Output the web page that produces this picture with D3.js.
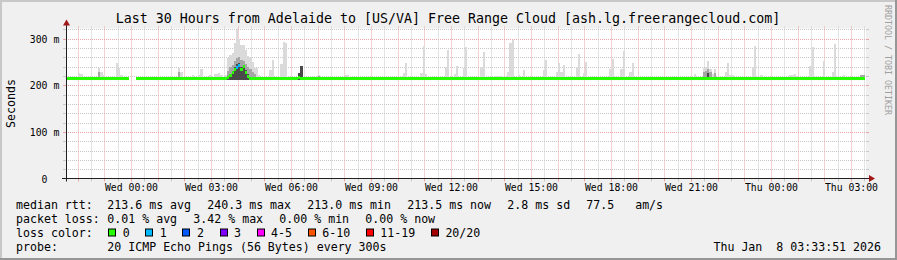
<!DOCTYPE html>
<html>
<head>
<meta charset="utf-8">
<script src="https://cdn.jsdelivr.net/npm/d3@7"></script>
<style>
  html, body { margin: 0; padding: 0; background: #f0f0f0; }
  svg { display: block; }
  text { font-family: 'DejaVu Sans Mono', monospace; fill: #000; white-space: pre; }
</style>
</head>
<body>
<svg id="chart"></svg>
<script>
// ---- data ----
const titleText = 'Last 30 Hours from Adelaide to [US/VA] Free Range Cloud [ash.lg.freerangecloud.com]';
const startTime = new Date(2026, 0, 6, 21, 33, 51);
const endTime = new Date(2026, 0, 8, 3, 33, 51);
const stepSeconds = 300;
const yTickValues = [0, 100, 200, 300];

// median rtt (ms) for every 5 minute step, null = no data
const medianRtt = [
  213.2,213.1,213.0,213.4,213.2,213.6,213.3,213.1,213.2,213.0,213.4,213.3,213.2,213.1,213.5,213.8,213.4,213.2,213.1,213.3,
  213.2,213.4,213.1,213.6,213.5,213.2,213.0,213.1,213.3,null,null,null,213.4,213.2,213.1,213.0,213.2,213.3,213.1,213.2,
  213.0,213.4,213.3,213.2,213.1,213.2,213.0,213.1,213.2,213.3,213.4,213.7,213.3,213.2,213.1,213.0,213.2,213.5,213.2,213.1,
  213.3,213.6,213.2,213.1,213.0,213.4,213.2,213.5,213.6,213.4,213.3,213.2,213.6,215.0,220.1,226.8,232.2,237.4,240.3,232.0,
  239.8,225.1,217.2,213.6,213.4,213.3,213.2,213.3,213.1,213.0,213.2,213.1,213.4,213.6,213.2,213.1,213.2,213.5,213.9,213.6,
  213.2,213.4,213.1,213.0,213.3,216.2,213.8,213.2,213.1,213.0,213.2,213.1,213.3,213.5,213.6,213.2,213.1,213.0,213.2,213.1,
  213.0,213.1,213.2,213.4,213.1,213.0,213.3,213.4,213.2,213.1,213.0,213.2,213.1,213.0,213.1,213.2,213.0,213.1,213.2,213.0,
  213.1,213.0,213.2,213.1,213.0,213.2,213.1,213.3,213.2,213.1,213.0,213.1,213.3,213.6,213.2,213.1,213.0,213.2,213.1,213.2,
  213.4,213.7,213.3,213.1,213.0,213.2,213.1,213.0,213.2,213.1,213.3,213.5,213.8,213.2,213.1,213.4,213.6,213.2,213.1,213.5,
  213.9,213.3,213.2,213.1,213.0,213.1,213.2,213.5,213.8,213.2,213.1,213.0,213.1,213.3,213.4,213.3,213.3,213.1,213.0,213.4,
  213.9,214.0,213.2,213.1,213.3,213.1,213.5,213.2,213.1,213.0,213.2,213.1,213.0,213.1,213.2,213.5,213.7,213.2,213.1,213.0,
  213.1,213.4,213.6,213.3,213.5,213.1,213.0,213.2,213.3,213.1,213.5,213.7,213.1,213.4,213.6,213.1,213.2,213.3,213.1,213.0,
  213.1,213.2,213.0,213.1,213.2,213.4,213.7,213.1,213.0,213.2,213.4,213.8,213.1,213.0,213.3,213.6,213.2,213.1,213.0,213.2,
  213.1,213.0,213.2,213.3,213.3,213.1,213.0,213.2,213.1,213.0,213.1,213.2,213.0,213.1,213.2,213.1,213.0,213.2,213.1,213.0,
  213.2,213.1,213.0,213.3,213.1,213.0,213.2,213.5,213.7,214.0,213.6,213.3,213.5,213.2,213.1,213.0,213.2,213.4,213.6,213.3,
  213.3,213.1,213.0,213.1,213.2,213.2,213.1,213.0,213.2,213.4,213.8,213.1,213.0,213.3,213.1,213.2,213.0,213.1,213.2,213.1,
  213.0,213.2,213.1,213.0,213.1,213.2,213.3,213.3,213.4,213.2,213.1,213.0,213.2,213.1,213.0,213.4,213.8,213.2,213.1,213.2,
  213.2,213.6,213.1,213.0,213.2,213.4,213.9,213.1,213.0,213.2,213.3,213.1,213.0,213.2,213.1,213.0,213.2,213.1,213.4,213.5
];

// steps with lost pings: [step, lost of 20]
const lossSteps = [[77, 1], [78, 1]];

// smoke per step: [step, max ping, upper mid ping, upper dark ping] (ms), 0 = none
const smoke = [
  [6, 227], [7, 224], [15, 237, 229], [16, 229], [17, 222], [23, 248], [24, 236], [25, 222],
  [41, 216], [42, 216], [51, 236, 229], [52, 228], [57, 222], [60, 222], [61, 234], [65, 222],
  [67, 225], [68, 224], [69, 226], [70, 222], [72, 222],
  [73, 258, 230, 220], [74, 265, 238, 224], [75, 268, 244, 230], [76, 290, 252, 238],
  [77, 322, 258, 246], [78, 300, 260, 248], [79, 286, 254, 240], [80, 286, 252, 244],
  [81, 275, 246, 232], [82, 262, 240, 224], [83, 261, 234], [84, 250, 228], [85, 236, 224],
  [86, 236], [87, 222], [92, 232], [93, 255], [97, 245], [98, 293], [99, 290], [101, 217],
  [105, 226, 226, 226], [106, 241, 241, 241], [113, 220, 218], [114, 222, 220], [123, 216],
  [126, 222], [127, 222], [152, 226], [153, 248], [160, 226], [161, 284], [162, 225],
  [171, 240], [172, 275], [175, 223], [176, 241], [179, 237], [180, 282], [181, 216], [182, 216],
  [187, 240], [188, 272], [193, 219], [194, 219], [195, 219], [196, 219], [199, 229], [200, 291],
  [201, 297], [204, 222], [206, 233], [207, 216], [215, 233], [216, 254], [221, 229], [222, 248],
  [223, 229], [224, 244], [228, 216], [230, 240], [231, 267], [233, 226], [234, 250], [236, 218],
  [237, 218], [245, 234], [246, 257], [250, 235], [251, 274], [254, 229], [255, 247], [263, 218],
  [264, 218], [280, 216], [283, 223], [286, 216], [287, 237, 229], [288, 240, 230],
  [289, 252, 235, 226], [290, 235, 228], [291, 225], [292, 235, 226], [297, 229], [298, 248],
  [299, 222], [300, 222], [304, 216], [305, 216], [309, 240], [310, 284], [313, 222], [315, 216],
  [326, 222], [327, 222], [328, 224], [329, 219], [335, 241], [336, 282], [339, 216], [340, 216],
  [341, 252], [345, 229], [346, 288], [350, 222], [358, 222, 222], [359, 222, 222]
];

const lossLabels = ['0', '1', '2', '3', '4-5', '6-10', '11-19', '20/20'];
const lossColors = ['#26ff00', '#00b8ff', '#0059ff', '#7e00ff', '#ff00ff', '#ff5500', '#ff0000', '#a10000'];

const rttStats = ['213.6 ms avg', '240.3 ms max', '213.0 ms min', '213.5 ms now', '2.8 ms sd', '77.5   am/s'];
const lossStats = ['0.01 % avg', '3.42 % max', '0.00 % min', '0.00 % now'];
const probeText = '20 ICMP Echo Pings (56 Bytes) every 300s';
const stampText = 'Thu Jan  8 03:33:51 2026';
const yLabel = 'Seconds';
const watermark = 'RRDTOOL / TOBI OETIKER';


class SmokeChart {

  constructor(_config) {
    this.config = {
      parentElement: _config.parentElement,
      containerWidth: 897,
      containerHeight: 260,
      plot: {left: 66, right: 866, top: 28.5, bottom: 178.5},
      yMax: 321.43,
      smokeBase: 211.5,
      charWidth: 7.0,
      legendGap: 16
    };
    this.initVis();
  }

  initVis() {
    let vis = this;
    const c = vis.config;
    const W = c.containerWidth, H = c.containerHeight;

    vis.xScale = d3.scaleTime()
        .domain([startTime, endTime])
        .range([c.plot.left, c.plot.right]);

    vis.yScale = d3.scaleLinear()
        .domain([0, c.yMax])
        .range([c.plot.bottom, c.plot.top]);

    vis.svg = d3.select(c.parentElement)
        .attr('width', W)
        .attr('height', H);

    // background with rrdtool style 3d border
    vis.svg.append('rect').attr('width', W).attr('height', H).attr('fill', '#f0f0f0');
    vis.svg.append('path').attr('d', `M0,0H${W}V2H2V${H}H0Z`).attr('fill', '#c8c8c8');
    vis.svg.append('path').attr('d', `M${W},${H}H0V${H - 2}H${W - 2}V0H${W}Z`).attr('fill', '#969696');

    // canvas
    vis.svg.append('rect')
        .attr('x', c.plot.left)
        .attr('y', c.plot.top)
        .attr('width', c.plot.right - c.plot.left)
        .attr('height', c.plot.bottom - c.plot.top)
        .attr('fill', '#ffffff');

    vis.svg.append('clipPath').attr('id', 'plot-clip')
      .append('rect')
        .attr('x', c.plot.left)
        .attr('y', c.plot.top)
        .attr('width', c.plot.right - c.plot.left)
        .attr('height', c.plot.bottom - c.plot.top);

    vis.gridG = vis.svg.append('g');
    vis.chart = vis.svg.append('g').attr('clip-path', 'url(#plot-clip)');
    vis.axisG = vis.svg.append('g');
    vis.legendG = vis.svg.append('g');

    vis.renderGrid();
    vis.renderVis();
    vis.renderAxes();
    vis.renderLegend();
  }

  renderGrid() {
    let vis = this;
    const c = vis.config;
    const minorCol = '#c8c8c8', majorCol = '#eaa4a4';

    // horizontal grid every 20 m, major every 100 m
    const hLines = d3.range(20, c.yMax, 20);
    hLines.forEach(v => {
      const y = Math.round(vis.yScale(v)) + 0.5;
      const col = v % 100 === 0 ? majorCol : minorCol;
      vis.gridG.append('line')
          .attr('x1', c.plot.left).attr('x2', c.plot.right + 2)
          .attr('y1', y).attr('y2', y)
          .attr('stroke', col).attr('stroke-dasharray', '1,1');
      vis.gridG.append('line')
          .attr('x1', c.plot.left - 3).attr('x2', c.plot.left)
          .attr('y1', y).attr('y2', y).attr('stroke', col);
      vis.gridG.append('line')
          .attr('x1', c.plot.right).attr('x2', c.plot.right + 3)
          .attr('y1', y).attr('y2', y).attr('stroke', col);
    });

    // vertical grid every 30 min, major every hour
    const vLines = d3.timeMinute.every(30).range(startTime, endTime);
    vLines.forEach(t => {
      const x = Math.round(vis.xScale(t)) + 0.5;
      const col = t.getMinutes() === 0 ? majorCol : minorCol;
      vis.gridG.append('line')
          .attr('x1', x).attr('x2', x)
          .attr('y1', c.plot.top - 2).attr('y2', c.plot.bottom)
          .attr('stroke', col).attr('stroke-dasharray', '1,1');
      vis.gridG.append('line')
          .attr('x1', x).attr('x2', x)
          .attr('y1', c.plot.bottom).attr('y2', c.plot.bottom + 3)
          .attr('stroke', col);
    });
  }

  renderVis() {
    let vis = this;
    const c = vis.config;
    const half = stepSeconds * 500;
    const stepTime = i => new Date(startTime.getTime() + i * stepSeconds * 1000);
    const x0 = i => Math.round(vis.xScale(new Date(stepTime(i).getTime() - half)));
    const x1 = i => Math.round(vis.xScale(new Date(stepTime(i).getTime() + half)));

    // smoke: light max band, then mid and dark inner bands
    const shades = [['#dadada', 1], ['#a6a6a6', 2], ['#4a4a4a', 3]];
    shades.forEach(([col, k]) => {
      vis.chart.append('g')
          .attr('shape-rendering', 'crispEdges')
        .selectAll('rect')
          .data(smoke.filter(d => d[k]))
        .join('rect')
          .attr('x', d => x0(d[0]))
          .attr('width', d => x1(d[0]) - x0(d[0]))
          .attr('y', d => Math.round(vis.yScale(d[k])))
          .attr('height', d => Math.round(vis.yScale(c.smokeBase)) - Math.round(vis.yScale(d[k])))
          .attr('fill', col);
    });

    // median, coloured by the number of lost pings
    const lossMap = new Map(lossSteps);
    const lossIndex = n => n === 0 ? 0 : n <= 3 ? n : n <= 5 ? 4 : n <= 10 ? 5 : n <= 19 ? 6 : 7;
    const medData = medianRtt.map((v, i) => ({i, v, loss: lossMap.get(i) || 0}))
        .filter(d => d.v !== null);

    vis.chart.append('g')
        .attr('shape-rendering', 'crispEdges')
      .selectAll('rect')
        .data(medData)
      .join('rect')
        .attr('x', d => x0(d.i))
        .attr('width', d => x1(d.i) - x0(d.i))
        .attr('y', d => Math.floor(vis.yScale(d.v) - 1.5))
        .attr('height', 3)
        .attr('fill', d => lossColors[lossIndex(d.loss)]);
  }

  renderAxes() {
    let vis = this;
    const c = vis.config;
    const axisCol = '#202020', arrowCol = '#a01818';

    // x labels
    const xAxis = d3.axisBottom(vis.xScale)
        .tickValues(d3.timeHour.every(3).range(startTime, endTime))
        .tickFormat(d3.timeFormat('%a %H:%M'))
        .tickSize(0);
    const xg = vis.axisG.append('g')
        .attr('transform', `translate(0,${c.plot.bottom})`)
        .call(xAxis);
    xg.select('.domain').remove();
    xg.attr('font-family', null).attr('font-size', null);
    xg.selectAll('text')
        .attr('y', 12.7)
        .attr('dy', null)
        .style('font-size', '9.8px');

    // y labels
    const yAxis = d3.axisLeft(vis.yScale)
        .tickValues(yTickValues)
        .tickFormat(d => d ? `${d} m` : '0  ')
        .tickSize(0)
        .tickPadding(6.7);
    const yg = vis.axisG.append('g')
        .attr('transform', `translate(${c.plot.left},0)`)
        .call(yAxis);
    yg.select('.domain').remove();
    yg.attr('font-family', null).attr('font-size', null);
    yg.selectAll('text')
        .attr('xml:space', 'preserve')
        .attr('dy', '0.36em')
        .style('font-size', '9.8px');

    // axis lines and arrows
    const ax = c.plot.left + 0.5, ay = c.plot.bottom;
    vis.axisG.append('line')
        .attr('x1', c.plot.left - 4).attr('x2', c.plot.right + 4)
        .attr('y1', ay).attr('y2', ay)
        .attr('stroke', axisCol);
    vis.axisG.append('line')
        .attr('x1', ax).attr('x2', ax)
        .attr('y1', ay + 3).attr('y2', c.plot.top - 4)
        .attr('stroke', axisCol);
    vis.axisG.append('path')
        .attr('d', `M${c.plot.right + 3},${ay - 3.5}L${c.plot.right + 9},${ay}L${c.plot.right + 3},${ay + 3.5}Z`)
        .attr('fill', arrowCol);
    vis.axisG.append('path')
        .attr('d', `M${ax - 3.5},${c.plot.top - 3}L${ax},${c.plot.top - 9}L${ax + 3.5},${c.plot.top - 3}Z`)
        .attr('fill', arrowCol);

    // axis title
    vis.axisG.append('text')
        .attr('transform', `translate(15,${(c.plot.top + c.plot.bottom) / 2}) rotate(-90)`)
        .attr('text-anchor', 'middle')
        .style('font-size', '11.6px')
        .text(yLabel);

    // title
    vis.axisG.append('text')
        .attr('x', 448)
        .attr('y', 23)
        .attr('text-anchor', 'middle')
        .style('font-size', '13.3px')
        .text(titleText);

    // watermark
    vis.axisG.append('text')
        .attr('transform', 'translate(885,5) rotate(90)')
        .style('font-size', '8.3px')
        .style('fill', '#a0a0a0')
        .text(watermark);
  }

  renderLegend() {
    let vis = this;
    const c = vis.config;
    const rows = [208.5, 222.5, 236.5, 250.5];
    const left = 16, valueX = 107.3;
    const text = (x, y, s) => vis.legendG.append('text')
        .attr('x', x).attr('y', y)
        .attr('xml:space', 'preserve')
        .style('font-size', '11.6px')
        .text(s);

    // a row of items laid out with rrdtool's gap between them
    const row = (items, y) => {
      let x = valueX;
      items.forEach(s => {
        text(x, y, s);
        x += s.length * c.charWidth + c.legendGap;
      });
    };

    text(left, rows[0], 'median rtt:');
    row(rttStats, rows[0]);
    text(left, rows[1], 'packet loss:');
    row(lossStats, rows[1]);

    text(left, rows[2], 'loss color:');
    let bx = 108.3;
    lossLabels.forEach((lab, i) => {
      vis.legendG.append('rect')
          .attr('x', Math.round(bx) + 0.5)
          .attr('y', rows[2] - 7.5)
          .attr('width', 7)
          .attr('height', 7)
          .attr('fill', lossColors[i])
          .attr('stroke', '#000');
      text(bx + 14.4, rows[2], lab);
      bx += 14.4 + lab.length * c.charWidth + 15.7;
    });

    text(left, rows[3], 'probe:');
    text(valueX, rows[3], probeText);
    vis.legendG.append('text')
        .attr('x', 881).attr('y', rows[3])
        .attr('text-anchor', 'end')
        .attr('xml:space', 'preserve')
        .style('font-size', '11.6px')
        .text(stampText);
  }
}

new SmokeChart({parentElement: '#chart'});
</script>
</body>
</html>
